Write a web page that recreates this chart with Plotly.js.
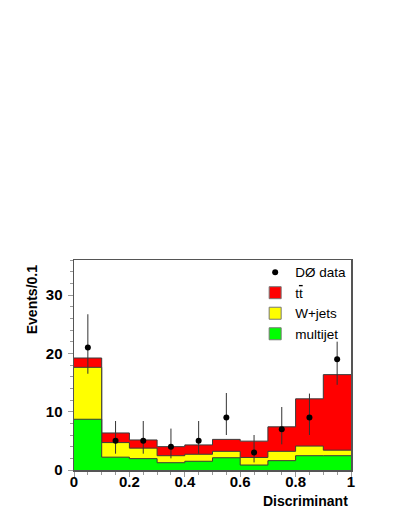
<!DOCTYPE html>
<html>
<head>
<meta charset="utf-8">
<script src="https://cdn.plot.ly/plotly-3.0.1.min.js"></script>
<style>
  html, body { margin: 0; padding: 0; background: #fff; }
  #chart { width: 399px; height: 516px; }
</style>
</head>
<body>
<div id="chart"></div>
<script>
// Bin edges of the discriminant histogram (10 bins of 0.1)
const binEdges = [0, 0.1, 0.2, 0.3, 0.4, 0.5, 0.6, 0.7, 0.8, 0.9, 1.0];
const binCenters = [0.05, 0.15, 0.25, 0.35, 0.45, 0.55, 0.65, 0.75, 0.85, 0.95];

// Stacked predictions per bin
const multijet = [8.7, 2.2, 1.95, 1.25, 1.5, 2.1, 0.85, 1.6, 2.45, 2.45];
const wjets    = [8.9, 2.5, 1.8, 1.2, 1.2, 1.1, 1.3, 1.6, 1.65, 0.95];
const ttbar    = [1.6, 1.65, 1.4, 1.55, 1.6, 2.05, 2.8, 4.2, 8.1, 12.95];

// DØ data with asymmetric errors
const dataY     = [21, 5, 5, 4, 5, 9, 3, 7, 9, 19];
const dataErrUp = [5.7, 3.4, 3.4, 3.1, 3.4, 4.2, 3.0, 3.8, 4.1, 3.0];
const dataErrDn = [4.5, 2.2, 2.2, 2.0, 2.2, 3.0, 1.7, 2.6, 3.0, 4.4];

const xTickVals = [0, 0.2, 0.4, 0.6, 0.8, 1];
const xTickText = ["0", "0.2", "0.4", "0.6", "0.8", "1"];

const FONT = "Liberation Sans, Arial, Helvetica, sans-serif";
const EDGE = "#3a3a3a";

// cumulative step outlines: repeat the last bin value at x = 1
function stepY(vals) { return vals.concat([vals[vals.length - 1]]); }
const lvlGreen = multijet.slice();
const lvlYellow = multijet.map((v, i) => v + wjets[i]);
const lvlRed = lvlYellow.map((v, i) => v + ttbar[i]);

function stepTrace(vals, color) {
  return {
    x: binEdges, y: stepY(vals), type: "scatter", mode: "lines",
    line: { shape: "hv", color: EDGE, width: 1 },
    fill: "tozeroy", fillcolor: color, showlegend: false, hoverinfo: "skip",
  };
}

// legend-only boxes (the stack itself is drawn as filled steps)
function legendBox(name, color, rank) {
  return {
    x: [null], y: [null], type: "bar", name: name, legendrank: rank,
    marker: { color: color, line: { color: "#777", width: 1 } },
  };
}

const traces = [
  stepTrace(lvlRed, "#ff0000"),
  stepTrace(lvlYellow, "#ffff00"),
  stepTrace(lvlGreen, "#00ff00"),
  legendBox("t<span style=\"text-decoration:overline\">t</span>", "#ff0000", 2),
  legendBox("W+jets", "#ffff00", 3),
  legendBox("multijet", "#00ff00", 4),
  {
    x: binCenters, y: dataY, type: "scatter", mode: "markers", name: "DØ data",
    legendrank: 1,
    marker: { color: "#000", size: 6 },
    error_y: { type: "data", symmetric: false, array: dataErrUp, arrayminus: dataErrDn,
               color: "#333", thickness: 1, width: 0 },
  },
];

const axisBase = {
  showline: true, mirror: true, linecolor: "#555", linewidth: 1.5,
  showgrid: false, zeroline: false,
  ticks: "outside", ticklen: 5, tickcolor: "#999", tickwidth: 1,
  tickfont: { family: FONT, size: 15, color: "#000", weight: "bold" },
};

const layout = {
  width: 399, height: 516,
  paper_bgcolor: "#fff", plot_bgcolor: "#fff",
  margin: { l: 73.5, r: 48, t: 260, b: 46 },
  font: { family: FONT, color: "#000" },
  xaxis: { ...axisBase, range: [0, 1], tickvals: xTickVals, ticktext: xTickText,
           ticklabelstandoff: -8,
           minor: { dtick: 0.05, ticks: "outside", ticklen: 3, tickcolor: "#999" } },
  yaxis: { ...axisBase, range: [0, 36], dtick: 10, ticklabelstandoff: 2,
           minor: { dtick: 2, ticks: "outside", ticklen: 3, tickcolor: "#999" } },
  showlegend: true,
  legend: {
    x: 0.654, y: 1.015, xanchor: "left", yanchor: "top",
    bgcolor: "rgba(255,255,255,0)", borderwidth: 0,
    font: { family: FONT, size: 13.5, color: "#000" },
    tracegroupgap: 0, itemwidth: 30,
  },
  annotations: [
    { text: "Events/0.1", xref: "paper", yref: "paper", x: -0.153, y: 0.985,
      xanchor: "center", yanchor: "top", textangle: -90, showarrow: false,
      font: { family: FONT, size: 14, weight: "bold" } },
    { text: "Discriminant", xref: "paper", yref: "paper", x: 0.995, y: -0.148,
      xanchor: "right", yanchor: "middle", showarrow: false,
      font: { family: FONT, size: 14, weight: "bold" } },
  ],
};

Plotly.newPlot("chart", traces, layout, { displayModeBar: false, staticPlot: true });
</script>
</body>
</html>
